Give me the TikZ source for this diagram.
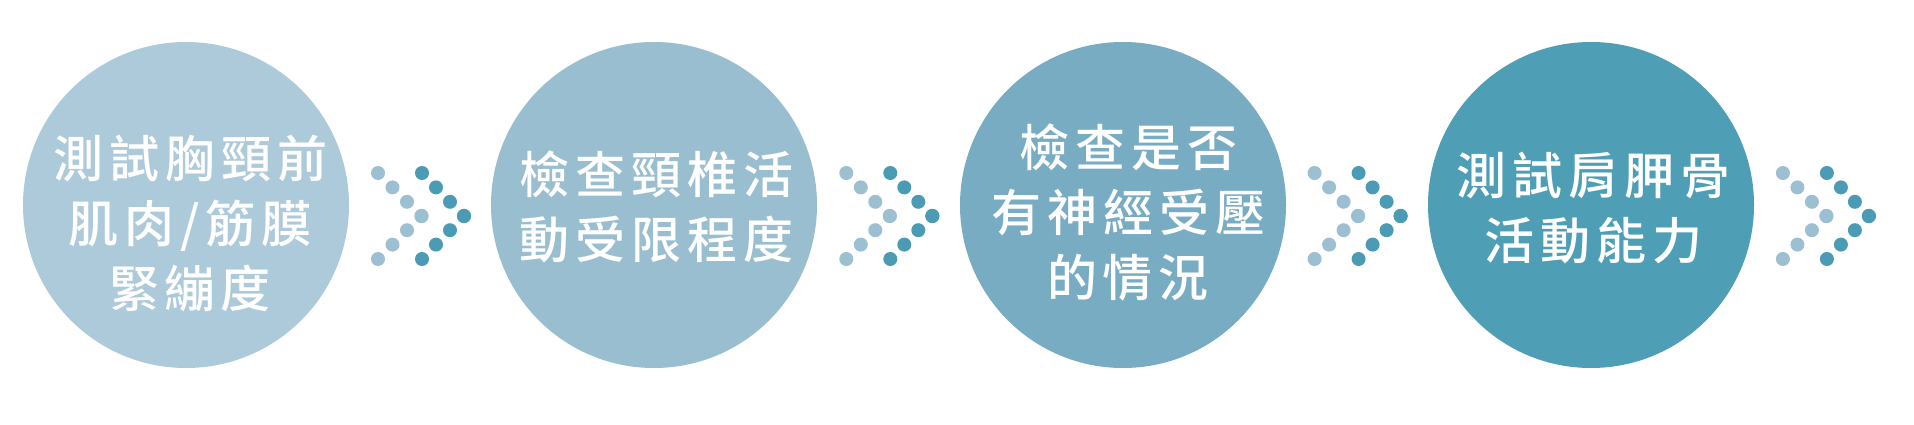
\documentclass[tikz,border=0pt]{standalone}
\usepackage{fontspec}
\newfontfamily\cjk{Noto Sans CJK TC Medium}[LetterSpace=12]
\definecolor{cA}{HTML}{ADCADA}
\definecolor{cB}{HTML}{98BED0}
\definecolor{cC}{HTML}{78ACC2}
\definecolor{cD}{HTML}{4E9EB5}
\definecolor{dotL}{HTML}{9CC0D1}
\definecolor{dotD}{HTML}{4A9BB3}
\begin{document}
\begin{tikzpicture}[x=1pt,y=-1pt,
  stepcircle/.style={circle,inner sep=0pt,minimum size=326pt,draw=none},
  steptext/.style={text=white,align=center,font=\cjk\fontsize{50}{65}\selectfont,inner sep=0pt},
  lightdot/.style={fill=dotL},
  darkdot/.style={fill=dotD}]
\useasboundingbox (0,0) rectangle (1914,425);
\fill[white] (0,0) rectangle (1914,425);
% circles
\node[stepcircle,fill=cA] (c1) at (186,205) {};
\node[stepcircle,fill=cB] (c2) at (654,205) {};
\node[stepcircle,fill=cC] (c3) at (1123,205) {};
\node[stepcircle,fill=cD] (c4) at (1591,205) {};
% texts
\node[steptext] (t1) at (190,223) {測試胸頸前\\肌肉/筋膜\\緊繃度};
\node[steptext] (t2) at (656,207) {檢查頸椎活\\動受限程度};
\node[steptext] (t3) at (1128,212) {檢查是否\\有神經受壓\\的情況};
\node[steptext] (t4) at (1593,208) {測試肩胛骨\\活動能力};
% dotted arrows
\foreach \k in {0,1,2,3}{
  \pgfmathsetmacro{\ox}{378+468.3*\k}
  \foreach \i in {0,1,2,3}{
    \pgfmathsetmacro{\dx}{14.5*\i}
    \pgfmathsetmacro{\dy}{14.4*\i}
    \fill[lightdot] (\ox+\dx,173+\dy) circle (7);
    \fill[lightdot] (\ox+\dx,259-\dy) circle (7);
    \pgfmathsetmacro{\ex}{14*\i}
    \fill[darkdot] (\ox+44+\ex,173+\dy) circle (7);
    \fill[darkdot] (\ox+44+\ex,259-\dy) circle (7);
  }
}
\end{tikzpicture}
\end{document}
